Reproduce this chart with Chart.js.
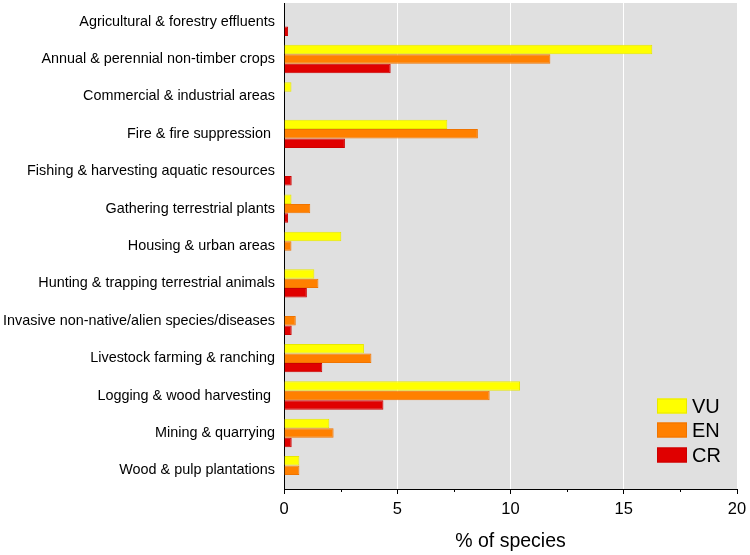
<!DOCTYPE html>
<html>
<head>
<meta charset="utf-8">
<script src="https://cdn.jsdelivr.net/npm/chart.js@4/dist/chart.umd.min.js"></script>
<style>
html,body{margin:0;padding:0;background:#fff;}
canvas{display:block;}
</style>
</head>
<body>
<canvas id="c" width="750" height="555"></canvas>
<script>
const categories = [
  "Agricultural & forestry effluents",
  "Annual & perennial non-timber crops",
  "Commercial & industrial areas",
  "Fire & fire suppression ",
  "Fishing & harvesting aquatic resources",
  "Gathering terrestrial plants",
  "Housing & urban areas",
  "Hunting & trapping terrestrial animals",
  "Invasive non-native/alien species/diseases",
  "Livestock farming & ranching",
  "Logging & wood harvesting ",
  "Mining & quarrying",
  "Wood & pulp plantations"
];
const seriesNames = ["VU", "EN", "CR"];
const vuValues = [null, 16.26, 0.33, 7.21, null, 0.33, 2.53, 1.34, null, 3.53, 10.42, 2.0, 0.68];
const enValues = [null, 11.76, null, 8.56, null, 1.16, 0.33, 1.52, 0.52, 3.86, 9.08, 2.19, 0.68];
const crValues = [0.18, 4.71, null, 2.69, 0.34, 0.18, null, 1.01, 0.34, 1.69, 4.39, 0.34, null];
const xTicks = [0, 5, 10, 15, 20];
const xMinorTicks = [2.5, 7.5, 12.5, 17.5];
const axisTitle = "% of species";

const FONT = "'Liberation Sans', Arial, Helvetica, sans-serif";
const fills = ["#ffff00", "#ff8000", "#e00000"];
const borders = ["#e8e800", "#f07400", "#cc0000"];

const plotBg = {
  id: 'plotBg',
  beforeDraw(chart) {
    const {ctx, chartArea: a} = chart;
    ctx.save();
    ctx.fillStyle = '#e0e0e0';
    ctx.fillRect(a.left, a.top, a.right - a.left, a.bottom - a.top);
    ctx.restore();
  }
};

const minorTicks = {
  id: 'minorTicks',
  afterDraw(chart) {
    const {ctx} = chart;
    const xs = chart.scales.x;
    ctx.save();
    ctx.strokeStyle = '#000';
    ctx.lineWidth = 1;
    xMinorTicks.forEach(v => {
      const px = Math.round(xs.getPixelForValue(v)) + 0.5;
      ctx.beginPath();
      ctx.moveTo(px, xs.top);
      ctx.lineTo(px, xs.top + 3);
      ctx.stroke();
    });
    ctx.restore();
  }
};

const insideLegend = {
  id: 'insideLegend',
  afterDatasetsDraw(chart) {
    const {ctx, chartArea: a} = chart;
    ctx.save();
    ctx.font = "20px " + FONT;
    ctx.textBaseline = 'middle';
    ctx.textAlign = 'left';
    const offs = [83, 59, 34];
    chart.data.datasets.forEach((ds, i) => {
      const cy = a.bottom - offs[i];
      const bx = a.right - 80;
      ctx.fillStyle = ds.backgroundColor;
      ctx.fillRect(bx, cy - 7.5, 30, 15);
      ctx.strokeStyle = ds.borderColor;
      ctx.lineWidth = 1;
      ctx.strokeRect(bx + 0.5, cy - 7, 29, 14);
      ctx.fillStyle = '#000';
      ctx.fillText(ds.label, bx + 35, cy + 1);
    });
    ctx.restore();
  }
};

new Chart(document.getElementById('c'), {
  type: 'bar',
  data: {
    labels: categories,
    datasets: [vuValues, enValues, crValues].map((vals, i) => ({
      label: seriesNames[i],
      data: vals,
      backgroundColor: fills[i],
      borderColor: borders[i],
      borderWidth: 1,
      borderSkipped: 'start',
      categoryPercentage: 0.76,
      barPercentage: 1.0
    }))
  },
  options: {
    indexAxis: 'y',
    responsive: false,
    animation: false,
    devicePixelRatio: 1,
    layout: { padding: { top: 3, right: 13, left: 0, bottom: 0 } },
    plugins: {
      legend: { display: false },
      tooltip: { enabled: false }
    },
    scales: {
      x: {
        type: 'linear',
        min: 0,
        max: 20,
        afterBuildTicks(scale) { scale.ticks = xTicks.map(v => ({value: v})); },
        afterFit(scale) {
          scale.height = 66;
          scale.paddingLeft = 0; scale.paddingRight = 0;
        },
        grid: {
          color: c => (c.tick && c.tick.value > 0 && c.tick.value < 20) ? '#ffffff' : 'rgba(0,0,0,0)',
          lineWidth: 1,
          drawTicks: true,
          tickLength: 5,
          tickColor: '#000'
        },
        border: { display: true, color: '#000', width: 1 },
        ticks: {
          color: '#000',
          font: { family: FONT, size: 16.5 },
          padding: 6,
          maxRotation: 0
        },
        title: {
          display: true,
          text: axisTitle,
          color: '#000',
          font: { family: FONT, size: 19.5 },
          padding: { top: 2, bottom: 2 }
        }
      },
      y: {
        afterFit(scale) {
          scale.width = 284;
          scale.paddingTop = 0; scale.paddingBottom = 0;
        },
        grid: { display: false, drawTicks: false },
        border: { display: true, color: '#000', width: 1 },
        ticks: {
          color: '#000',
          font: { family: FONT, size: 14.4 },
          padding: 9,
          autoSkip: false
        }
      }
    }
  },
  plugins: [plotBg, minorTicks, insideLegend]
});
</script>
</body>
</html>
